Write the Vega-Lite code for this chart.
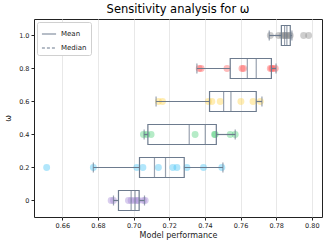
{
  "$schema": "https://vega.github.io/schema/vega-lite/v6.json",
  "autosize": {"type": "none"},
  "width": 288,
  "height": 198,
  "padding": {"left": 34, "top": 19, "right": 7, "bottom": 30},
  "background": "white",
  "title": {"text": "Sensitivity analysis for ω", "font": "DejaVu Sans", "fontSize": 11.5, "fontWeight": "normal", "color": "black", "offset": 4},
  "config": {
    "font": "DejaVu Sans",
    "view": {"stroke": "#222", "strokeWidth": 1},
    "axis": {"labelFont": "DejaVu Sans", "titleFont": "DejaVu Sans", "labelColor": "#222", "titleColor": "#222", "labelFontSize": 6.5, "titleFontSize": 8, "titleFontWeight": "normal", "tickColor": "#222", "domain": false, "tickSize": 3}
  },
  "datasets": {
    "stats": [
      {"omega": "1.0", "lo": 0.7761, "q1": 0.7829, "Mean": 0.7847, "Median": 0.7860, "q3": 0.7879, "hi": 0.7888},
      {"omega": "0.8", "lo": 0.7355, "q1": 0.7542, "Mean": 0.7638, "Median": 0.7688, "q3": 0.7773, "hi": 0.7799},
      {"omega": "0.6", "lo": 0.7126, "q1": 0.7426, "Mean": 0.7505, "Median": 0.7546, "q3": 0.7688, "hi": 0.7720},
      {"omega": "0.4", "lo": 0.7059, "q1": 0.7080, "Mean": 0.7312, "Median": 0.7402, "q3": 0.7464, "hi": 0.7570},
      {"omega": "0.2", "lo": 0.6774, "q1": 0.7033, "Mean": 0.7117, "Median": 0.7179, "q3": 0.7284, "hi": 0.7501},
      {"omega": "0", "lo": 0.6887, "q1": 0.6915, "Mean": 0.6986, "Median": 0.7008, "q3": 0.7031, "hi": 0.7061}
    ],
    "points": [
      {"omega": "1.0", "perf": 0.7767}, {"omega": "1.0", "perf": 0.7814}, {"omega": "1.0", "perf": 0.7833}, {"omega": "1.0", "perf": 0.7845}, {"omega": "1.0", "perf": 0.7851}, {"omega": "1.0", "perf": 0.7860}, {"omega": "1.0", "perf": 0.7870}, {"omega": "1.0", "perf": 0.7879}, {"omega": "1.0", "perf": 0.7954}, {"omega": "1.0", "perf": 0.7982},
      {"omega": "0.8", "perf": 0.7368}, {"omega": "0.8", "perf": 0.7379}, {"omega": "0.8", "perf": 0.7524}, {"omega": "0.8", "perf": 0.7608}, {"omega": "0.8", "perf": 0.7617}, {"omega": "0.8", "perf": 0.7767}, {"omega": "0.8", "perf": 0.7775}, {"omega": "0.8", "perf": 0.7780}, {"omega": "0.8", "perf": 0.7795},
      {"omega": "0.6", "perf": 0.7139}, {"omega": "0.6", "perf": 0.7162}, {"omega": "0.6", "perf": 0.7420}, {"omega": "0.6", "perf": 0.7439}, {"omega": "0.6", "perf": 0.7486}, {"omega": "0.6", "perf": 0.7602}, {"omega": "0.6", "perf": 0.7670}, {"omega": "0.6", "perf": 0.7711},
      {"omega": "0.4", "perf": 0.7055}, {"omega": "0.4", "perf": 0.7074}, {"omega": "0.4", "perf": 0.7098}, {"omega": "0.4", "perf": 0.7345}, {"omega": "0.4", "perf": 0.7454}, {"omega": "0.4", "perf": 0.7458}, {"omega": "0.4", "perf": 0.7542}, {"omega": "0.4", "perf": 0.7570},
      {"omega": "0.2", "perf": 0.6512}, {"omega": "0.2", "perf": 0.6774}, {"omega": "0.2", "perf": 0.7018}, {"omega": "0.2", "perf": 0.7052}, {"omega": "0.2", "perf": 0.7139}, {"omega": "0.2", "perf": 0.7220}, {"omega": "0.2", "perf": 0.7243}, {"omega": "0.2", "perf": 0.7299}, {"omega": "0.2", "perf": 0.7392}, {"omega": "0.2", "perf": 0.7495},
      {"omega": "0", "perf": 0.6874}, {"omega": "0", "perf": 0.6887}, {"omega": "0", "perf": 0.6971}, {"omega": "0", "perf": 0.6986}, {"omega": "0", "perf": 0.7004}, {"omega": "0", "perf": 0.7018}, {"omega": "0", "perf": 0.7027}, {"omega": "0", "perf": 0.7055}, {"omega": "0", "perf": 0.7065}
    ]
  },
  "encoding": {
    "y": {"field": "omega", "type": "ordinal", "title": "ω",
      "scale": {"domain": ["1.0", "0.8", "0.6", "0.4", "0.2", "0"], "type": "band", "paddingInner": 0, "paddingOuter": 0},
      "axis": {"labelPadding": 2, "titlePadding": 6, "titleFontSize": 8}}
  },
  "layer": [
    {
      "data": {"name": "points"},
      "mark": {"type": "circle", "size": 48, "opacity": 0.42},
      "encoding": {
        "x": {"field": "perf", "type": "quantitative", "title": "Model performance",
          "scale": {"domain": [0.6441, 0.8057], "nice": false, "zero": false},
          "axis": {"values": [0.66, 0.68, 0.70, 0.72, 0.74, 0.76, 0.78, 0.80], "format": ".2f", "grid": true, "gridColor": "#e8e8e8", "gridWidth": 1, "titlePadding": 3, "labelPadding": 2}},
        "color": {"field": "omega", "type": "nominal", "legend": null,
          "scale": {"domain": ["1.0", "0.8", "0.6", "0.4", "0.2", "0"], "range": ["#8a8a8a", "#ff5c5c", "#ffd34d", "#4fcf7a", "#45c3f5", "#a58ad6"]}}
      }
    },
    {
      "data": {"name": "stats"},
      "mark": {"type": "rule", "color": "#6d7b8e", "strokeWidth": 1.2},
      "encoding": {"x": {"field": "lo", "type": "quantitative"}, "x2": {"field": "q1"}}
    },
    {
      "data": {"name": "stats"},
      "mark": {"type": "rule", "color": "#6d7b8e", "strokeWidth": 1.2},
      "encoding": {"x": {"field": "q3", "type": "quantitative"}, "x2": {"field": "hi"}}
    },
    {
      "data": {"name": "stats"},
      "mark": {"type": "tick", "color": "#6d7b8e", "size": 10, "thickness": 1.2},
      "encoding": {"x": {"field": "lo", "type": "quantitative"}}
    },
    {
      "data": {"name": "stats"},
      "mark": {"type": "tick", "color": "#6d7b8e", "size": 10, "thickness": 1.2},
      "encoding": {"x": {"field": "hi", "type": "quantitative"}}
    },
    {
      "data": {"name": "stats"},
      "mark": {"type": "bar", "size": 20, "fill": "transparent", "stroke": "#6d7b8e", "strokeWidth": 1.2},
      "encoding": {"x": {"field": "q1", "type": "quantitative"}, "x2": {"field": "q3"}}
    },
    {
      "data": {"name": "stats"},
      "mark": {"type": "tick", "color": "#6d7b8e", "size": 20, "thickness": 1.2},
      "encoding": {"x": {"field": "Mean", "type": "quantitative"}}
    },
    {
      "data": {"name": "stats"},
      "mark": {"type": "tick", "filled": false, "fill": "transparent", "stroke": "#6d7b8e", "strokeWidth": 1.2, "strokeDash": [3, 2], "size": 20, "thickness": 0.01},
      "encoding": {"x": {"field": "Median", "type": "quantitative"}}
    },
    {
      "data": {"name": "stats"},
      "transform": [{"fold": ["Mean", "Median"], "as": ["stat", "value"]}],
      "mark": {"type": "line", "color": "#6d7b8e", "strokeWidth": 1.2},
      "encoding": {
        "x": {"field": "value", "type": "quantitative"},
        "detail": {"field": "omega"},
        "strokeDash": {"field": "stat", "type": "nominal",
          "scale": {"domain": ["Mean", "Median"], "range": [[1, 0], [3, 2]]},
          "legend": {"title": null, "orient": "top-left", "offset": 3, "symbolSize": 200, "symbolStrokeWidth": 1.2, "labelFontSize": 7, "labelFont": "DejaVu Sans", "labelColor": "#222", "strokeColor": "#d0d0d0", "fillColor": "white", "padding": 4, "rowPadding": 3, "cornerRadius": 2}}
      }
    }
  ]
}
